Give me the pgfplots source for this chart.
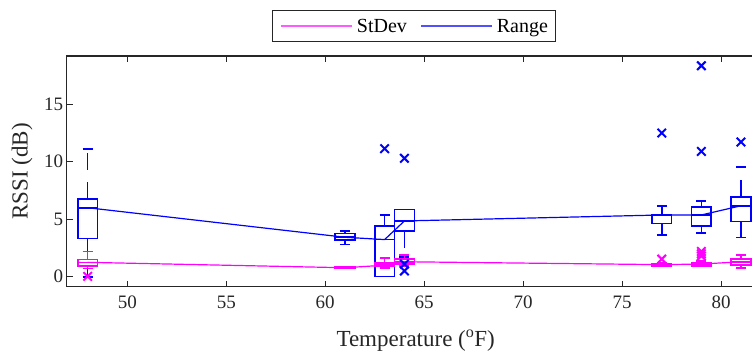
\documentclass[border=0pt]{standalone}
\usepackage{pgfplots}
\pgfplotsset{compat=1.18}
\usepgfplotslibrary{statistics}
\usepackage{fontspec}
\setmainfont{Liberation Serif}
\definecolor{axgray}{RGB}{38,38,38}
\definecolor{mblue}{RGB}{0,0,255}
\definecolor{mmag}{RGB}{255,0,255}
\definecolor{lgmag}{RGB}{255,90,255}
\definecolor{lgblue}{RGB}{80,80,255}
\begin{document}
\begin{tikzpicture}
\useasboundingbox (-66.7pt,-67.3pt) rectangle (685.3pt,286.7pt);
\begin{axis}[
  at={(0pt,0pt)}, anchor=south west,
  scale only axis, width=698pt, height=230.7pt,
  xmin=46.94, xmax=82.2, ymin=-0.87, ymax=19.2,
  xtick={50,55,60,65,70,75,80}, ytick={0,5,10,15},
  xtick pos=both, ytick pos=both,
  tick align=inside, major tick length=6pt,
  axis line style={axgray, line width=1.3pt},
  tick style={axgray, line width=1.3pt},
  ticklabel style={font=\fontsize{19}{21}\selectfont, text=axgray},
  /pgf/number format/assume math mode=true,
  xticklabel style={yshift=-6pt},
  xlabel={Temperature (\textsuperscript{o}F)},
  ylabel={RSSI (dB)},
  label style={font=\fontsize{23}{25}\selectfont, text=axgray},
  xlabel style={at={(axis description cs:0.5,-0.261)}, anchor=base},
  ylabel style={at={(axis description cs:-0.056,0.5)}, anchor=base},
  boxplot/draw direction=y,
  boxplot/box extend=1,
  boxplot/whisker extend=0.5,
  boxplot/every whisker/.style={dash pattern=on 17pt off 12pt},
  mark=x, mark size=6pt,
]
\addplot[mmag, line width=1.2pt, no marks]
  coordinates {(48,1.25) (61,0.78) (63,1.0) (64,1.3) (77,1.05) (79,1.1) (81,1.3)};
\addplot[mblue, line width=1.2pt, no marks]
  coordinates {(48,6.0) (61,3.43) (63,3.23) (64,4.85) (77,5.37) (79,5.37) (81,6.17)};

% Range boxplots
\addplot[mblue, line width=1.6pt, forget plot, mark=x, mark options={solid, line width=2pt},
  boxplot prepared={draw position=48, lower whisker=0, lower quartile=3.32, median=6.0, upper quartile=6.78, upper whisker=11.1}] coordinates {};
\addplot[mblue, line width=1.6pt, forget plot, mark=x, mark options={solid, line width=2pt},
  boxplot prepared={draw position=61, lower whisker=2.8, lower quartile=3.2, median=3.43, upper quartile=3.75, upper whisker=4.0}] coordinates {};
\addplot[mblue, line width=1.6pt, forget plot, mark=x, mark options={solid, line width=2pt},
  boxplot prepared={draw position=63, lower whisker=0.03, lower quartile=0.03, median=3.23, upper quartile=4.39, upper whisker=5.37}] table[row sep=\\, y index=0] {y\\ 11.14\\};
\addplot[mblue, line width=1.6pt, forget plot, mark=x, mark options={solid, line width=2pt},
  boxplot prepared={draw position=64, lower whisker=1.7, lower quartile=4.0, median=4.85, upper quartile=5.83, upper whisker=5.83}] table[row sep=\\, y index=0] {y\\ 10.3\\ 1.1\\ 0.5\\};
\addplot[mblue, line width=1.6pt, forget plot, mark=x, mark options={solid, line width=2pt},
  boxplot prepared={draw position=77, lower whisker=3.61, lower quartile=4.62, median=5.37, upper quartile=5.4, upper whisker=6.15}] table[row sep=\\, y index=0] {y\\ 12.5\\};
\addplot[mblue, line width=1.6pt, forget plot, mark=x, mark options={solid, line width=2pt},
  boxplot prepared={draw position=79, lower whisker=3.81, lower quartile=4.42, median=5.37, upper quartile=6.06, upper whisker=6.61}] table[row sep=\\, y index=0] {y\\ 10.9\\ 18.35\\};
\addplot[mblue, line width=1.6pt, forget plot, mark=x, mark options={solid, line width=2pt},
  boxplot prepared={draw position=81, lower whisker=3.4, lower quartile=4.79, median=6.17, upper quartile=6.95, upper whisker=9.55}] table[row sep=\\, y index=0] {y\\ 11.72\\};

% StDev boxplots
\addplot[mmag, line width=1.6pt, forget plot, mark=x, mark options={solid, line width=2pt},
  boxplot prepared={draw position=48, lower whisker=0.72, lower quartile=0.95, median=1.25, upper quartile=1.5, upper whisker=2.19}] table[row sep=\\, y index=0] {y\\ 0.03\\};
\addplot[mmag, line width=1.6pt, forget plot, mark=x, mark options={solid, line width=2pt},
  boxplot prepared={draw position=61, lower whisker=0.7, lower quartile=0.74, median=0.78, upper quartile=0.83, upper whisker=0.86}] coordinates {};
\addplot[mmag, line width=1.6pt, forget plot, mark=x, mark options={solid, line width=2pt},
  boxplot prepared={draw position=63, lower whisker=0.75, lower quartile=0.9, median=1.0, upper quartile=1.2, upper whisker=1.62}] coordinates {};
\addplot[mmag, line width=1.6pt, forget plot, mark=x, mark options={solid, line width=2pt},
  boxplot prepared={draw position=64, lower whisker=0.95, lower quartile=1.1, median=1.3, upper quartile=1.55, upper whisker=1.9}] coordinates {};
\addplot[mmag, line width=1.6pt, forget plot, mark=x, mark options={solid, line width=2pt},
  boxplot prepared={draw position=77, lower whisker=0.9, lower quartile=0.95, median=1.05, upper quartile=1.15, upper whisker=1.2}] table[row sep=\\, y index=0] {y\\ 1.53\\};
\addplot[mmag, line width=1.6pt, forget plot, mark=x, mark options={solid, line width=2pt},
  boxplot prepared={draw position=79, lower whisker=0.88, lower quartile=0.95, median=1.1, upper quartile=1.25, upper whisker=1.35}] table[row sep=\\, y index=0] {y\\ 1.8\\ 2.0\\ 2.2\\};
\addplot[mmag, line width=1.6pt, forget plot, mark=x, mark options={solid, line width=2pt},
  boxplot prepared={draw position=81, lower whisker=0.78, lower quartile=1.0, median=1.3, upper quartile=1.53, upper whisker=1.9}] coordinates {};
\end{axis}
% legend
\draw[axgray, line width=1pt, fill=white] (206pt,245pt) rectangle (488.3pt,275.7pt);
\draw[lgmag, line width=1.6pt] (214pt,260.7pt) -- (285pt,260.7pt);
\draw[lgblue, line width=1.6pt] (354.3pt,260.7pt) -- (425pt,260.7pt);
\node[anchor=base west, inner sep=0pt, font=\fontsize{20}{22}\selectfont, text=black] at (290pt,253.8pt) {StDev};
\node[anchor=base west, inner sep=0pt, font=\fontsize{20}{22}\selectfont, text=black] at (430pt,253.8pt) {Range};
\end{tikzpicture}
\end{document}
